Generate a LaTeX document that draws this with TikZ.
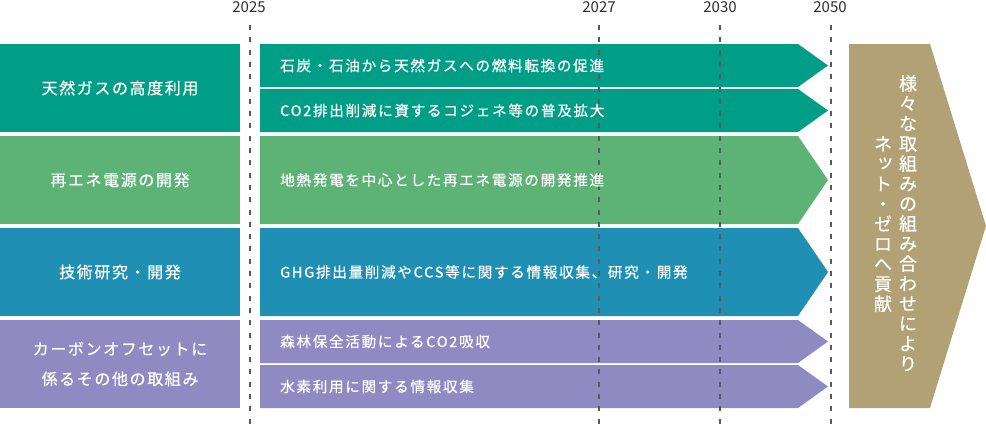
\documentclass[tikz,border=0pt]{standalone}
\usepackage{fontspec}
\setmainfont{Noto Sans CJK JP}[FakeBold=0.6]
\newfontfamily\lsfont[LetterSpace=10,FakeBold=0.6]{Noto Sans CJK JP}
\newfontfamily\arfont[LetterSpace=11.5,FakeBold=0.6]{Noto Sans CJK JP}
\newfontfamily\yrfont{Noto Sans CJK JP}
\definecolor{cteal}{RGB}{0,158,134}
\definecolor{cgreen}{RGB}{93,178,118}
\definecolor{cblue}{RGB}{31,144,179}
\definecolor{cpurple}{RGB}{143,139,194}
\definecolor{ctan}{RGB}{177,161,117}
\definecolor{cyear}{RGB}{45,45,45}
\definecolor{cdash}{RGB}{90,90,90}
\newcommand\rowarrow[3]{\fill[#1] (260,#2) -- (798,#2) -- (828,{(#2+#3)/2}) -- (798,#3) -- (260,#3) -- cycle;}
\begin{document}
\begin{tikzpicture}[x=1pt,y=-1pt,
  yearlbl/.style={text=cyear,font=\yrfont\fontsize{15}{16}\selectfont,inner sep=0pt,anchor=center},
  catlbl/.style={text=white,font=\lsfont\fontsize{16}{30}\selectfont,inner sep=0pt,align=center,anchor=center},
  arrlbl/.style={text=white,font=\arfont\fontsize{14.6}{16}\selectfont,inner sep=0pt,anchor=west},
  vlbl/.style={text=white,font=\fontsize{18}{20}\selectfont,inner sep=0pt,align=center,anchor=north},
  yearline/.style={cdash,line width=1.8pt,dash pattern=on 5pt off 7.3pt}]
\useasboundingbox (0,0) rectangle (986,426);
% left category boxes
\fill[cteal] (0,44) rectangle (240,132);
\fill[cgreen] (0,136) rectangle (240,224);
\fill[cblue] (0,228) rectangle (240,316);
\fill[cpurple] (0,320) rectangle (240,408);
% row arrows
\rowarrow{cteal}{44}{87}
\rowarrow{cteal}{89}{132}
\rowarrow{cgreen}{136}{224}
\rowarrow{cblue}{228}{316}
\rowarrow{cpurple}{320}{363}
\rowarrow{cpurple}{365}{408}
% big arrow
\fill[ctan] (849,44) -- (930,44) -- (986,226) -- (930,408) -- (849,408) -- cycle;
% year lines
\coordinate (l25t) at (250,25); \coordinate (l25b) at (250,426);
\coordinate (l27t) at (599,25); \coordinate (l27b) at (599,426);
\coordinate (l30t) at (720,25); \coordinate (l30b) at (720,426);
\coordinate (l50t) at (831,25); \coordinate (l50b) at (831,426);
\draw[yearline] (l25t) -- (l25b);
\draw[yearline] (l27t) -- (l27b);
\draw[yearline] (l30t) -- (l30b);
\draw[yearline] (l50t) -- (l50b);
\node[yearlbl] (y25) at (249,7.5) {2025};
\node[yearlbl] (y27) at (599,7.5) {2027};
\node[yearlbl] (y30) at (720,7.5) {2030};
\node[yearlbl] (y50) at (830,7.5) {2050};
% category labels
\node[catlbl] (c1) at (120,88) {天然ガスの高度利用};
\node[catlbl] (c2) at (120,180) {再エネ電源の開発};
\node[catlbl] (c3) at (120,272) {技術研究・開発};
\node[catlbl] (c4) at (120,364) {カーボンオフセットに\\係るその他の取組み};
% arrow labels
\node[arrlbl] (a1) at (280,65.5) {石炭・石油から天然ガスへの燃料転換の促進};
\node[arrlbl] (a2) at (280,110.5) {CO2排出削減に資するコジェネ等の普及拡大};
\node[arrlbl] (a3) at (280,180) {地熱発電を中心とした再エネ電源の開発推進};
\node[arrlbl] (a4) at (280,272) {GHG排出量削減やCCS等に関する情報収集、研究・開発};
\node[arrlbl] (a5) at (280,341.5) {森林保全活動によるCO2吸収};
\node[arrlbl] (a6) at (280,386.5) {水素利用に関する情報収集};
% vertical text
\node[vlbl] (v1) at (908,75) {様\\々\\な\\取\\組\\み\\の\\組\\み\\合\\わ\\せ\\に\\よ\\り};
\node[vlbl] (v2) at (883,136) {ネ\\\makebox[1em]{\hspace{0.25em}\raisebox{0.15em}{ッ}}\\ト\\・\\ゼ\\ロ\\へ\\貢\\献};
\end{tikzpicture}
\end{document}
